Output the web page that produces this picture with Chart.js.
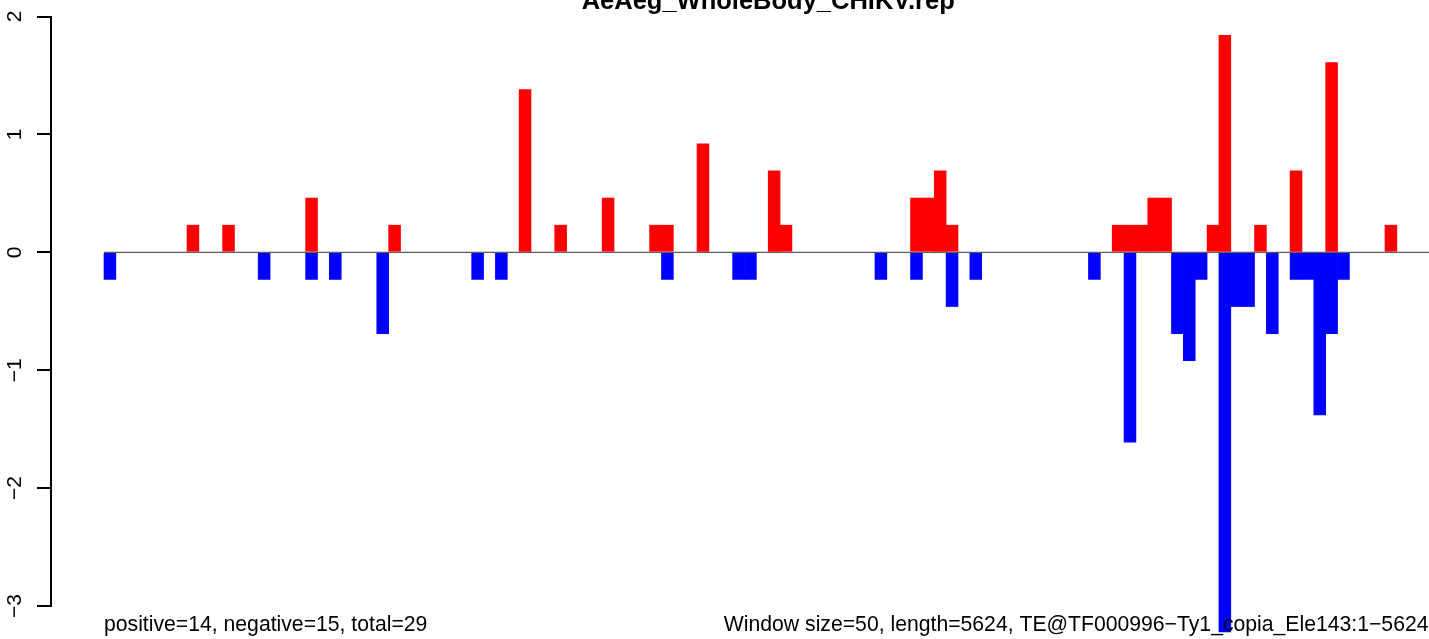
<!DOCTYPE html>
<html>
<head>
<meta charset="utf-8">
<script src="https://cdn.jsdelivr.net/npm/chart.js@4/dist/chart.umd.min.js"></script>
<style>
  html, body { margin: 0; padding: 0; background: #ffffff; overflow: hidden; }
  canvas { display: block; }
</style>
</head>
<body>
<canvas id="chart" width="1429" height="639"></canvas>
<script>
// ---------- text ----------
const titleText = 'AeAeg_WholeBody_CHIKV.rep';
const leftNote = 'positive=14, negative=15, total=29';
const rightNote = 'Window size=50, length=5624, TE@TF000996\u2212Ty1_copia_Ele143:1\u22125624';

// ---------- data (one value per 50-bp window, 112 windows) ----------
const windowIndex = Array.from({ length: 112 }, (_, i) => i);

const positiveValues = [
  0, 0, 0, 0, 0, 0, 0, 0.23, 0, 0,
  0.23, 0, 0, 0, 0, 0, 0, 0.46, 0, 0,
  0, 0, 0, 0, 0.23, 0, 0, 0, 0, 0,
  0, 0, 0, 0, 0, 1.38, 0, 0, 0.23, 0,
  0, 0, 0.46, 0, 0, 0, 0.23, 0.23, 0, 0,
  0.92, 0, 0, 0, 0, 0, 0.69, 0.23, 0, 0,
  0, 0, 0, 0, 0, 0, 0, 0, 0.46, 0.46,
  0.69, 0.23, 0, 0, 0, 0, 0, 0, 0, 0,
  0, 0, 0, 0, 0, 0.23, 0.23, 0.23, 0.46, 0.46,
  0, 0, 0, 0.23, 1.84, 0, 0, 0.23, 0, 0,
  0.69, 0, 0, 1.61, 0, 0, 0, 0, 0.23, 0,
  0, 0
];

const negativeValues = [
  -0.23, 0, 0, 0, 0, 0, 0, 0, 0, 0,
  0, 0, 0, -0.23, 0, 0, 0, -0.23, 0, -0.23,
  0, 0, 0, -0.69, 0, 0, 0, 0, 0, 0,
  0, -0.23, 0, -0.23, 0, 0, 0, 0, 0, 0,
  0, 0, 0, 0, 0, 0, 0, -0.23, 0, 0,
  0, 0, 0, -0.23, -0.23, 0, 0, 0, 0, 0,
  0, 0, 0, 0, 0, -0.23, 0, 0, -0.23, 0,
  0, -0.46, 0, -0.23, 0, 0, 0, 0, 0, 0,
  0, 0, 0, -0.23, 0, 0, -1.61, 0, 0, 0,
  -0.69, -0.92, -0.23, 0, -3.22, -0.46, -0.46, 0, -0.69, 0,
  -0.23, -0.23, -1.38, -0.69, -0.23, 0, 0, 0, 0, 0,
  0, 0
];

const yTickValues = [-3, -2, -1, 0, 1, 2];

// ---------- styling / layout ----------
const FONT = "'Liberation Sans', Arial, Helvetica, sans-serif";
const X_MIN = -4.468;   // left margin of plot region in window units
const X_MAX = 111.71;   // right edge of visible region in window units

// empty windows are left out (no zero-height slivers drawn over the baseline)
const toPoints = vals => vals.map((v, i) => ({ x: windowIndex[i] + 0.5, y: v === 0 ? null : v }));
const minusFmt = v => (v < 0 ? '\u2212' + Math.abs(v) : String(v));

const notesPlugin = {
  id: 'notes',
  afterDraw(chart) {
    const { ctx } = chart;
    const xs = chart.scales.x;
    ctx.save();
    ctx.fillStyle = '#000000';
    ctx.textBaseline = 'alphabetic';
    ctx.font = 'bold 25.5px ' + FONT;
    ctx.textAlign = 'center';
    ctx.fillText(titleText, xs.getPixelForValue(windowIndex.length / 2), 9.3);
    ctx.font = '21.2px ' + FONT;
    ctx.textAlign = 'left';
    ctx.fillText(leftNote, xs.getPixelForValue(0), 631);
    ctx.textAlign = 'right';
    ctx.fillText(rightNote, chart.width - 0.5, 631);
    ctx.restore();
  }
};

new Chart(document.getElementById('chart'), {
  type: 'bar',
  data: {
    datasets: [
      {
        type: 'line',
        label: 'zero',
        data: [{ x: 0, y: 0 }, { x: windowIndex.length, y: 0 }],
        borderColor: '#333333',
        borderWidth: 1,
        pointRadius: 0,
        order: 2
      },
      {
        label: 'positive',
        data: toPoints(positiveValues),
        backgroundColor: '#ff0000',
        borderWidth: 0,
        grouped: false,
        barPercentage: 1,
        categoryPercentage: 1,
        clip: false,
        order: 1
      },
      {
        label: 'negative',
        data: toPoints(negativeValues),
        backgroundColor: '#0000ff',
        borderWidth: 0,
        grouped: false,
        barPercentage: 1,
        categoryPercentage: 1,
        clip: false,
        order: 1
      }
    ]
  },
  options: {
    responsive: false,
    animation: false,
    devicePixelRatio: 1,
    layout: { padding: { top: 16.5, bottom: 33, left: 0, right: 0 } },
    plugins: {
      legend: { display: false },
      tooltip: { enabled: false },
      title: { display: false }
    },
    scales: {
      x: {
        type: 'linear',
        display: false,
        offset: false,
        min: X_MIN,
        max: X_MAX,
        grid: { display: false }
      },
      y: {
        type: 'linear',
        position: 'left',
        min: yTickValues[0],
        max: yTickValues[yTickValues.length - 1],
        afterFit: s => { s.width = 51; s.paddingTop = 0; s.paddingBottom = 0; },
        afterBuildTicks: s => { s.ticks = yTickValues.map(v => ({ value: v })); },
        border: { display: true, color: '#000000', width: 2 },
        grid: {
          drawOnChartArea: false,
          drawTicks: true,
          tickLength: 14,
          color: '#000000',
          lineWidth: 2
        },
        ticks: {
          minRotation: 90,
          maxRotation: 90,
          crossAlign: 'center',
          padding: 10,
          color: '#000000',
          font: { family: FONT, size: 21 },
          callback: v => minusFmt(v)
        }
      }
    }
  },
  plugins: [notesPlugin]
});
</script>
</body>
</html>
